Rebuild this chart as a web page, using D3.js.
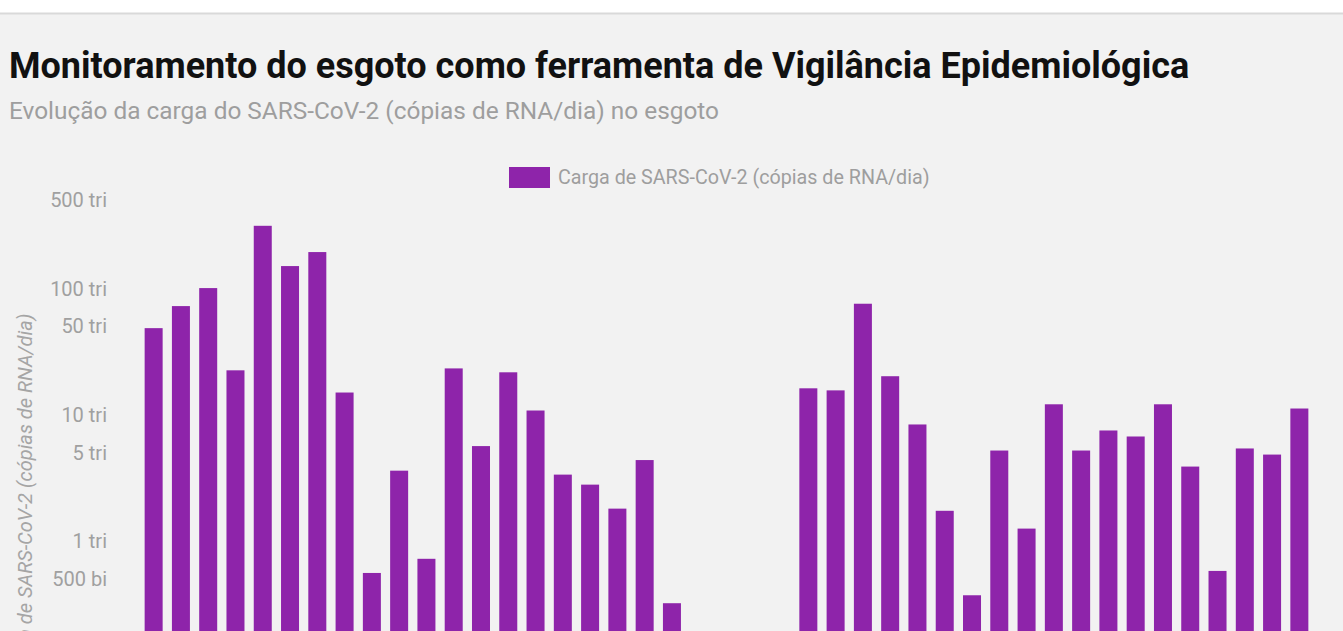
<!DOCTYPE html>
<html>
<head>
<meta charset="utf-8">
<script src="https://cdn.jsdelivr.net/npm/d3@7"></script>
<style>
    html, body { margin: 0; padding: 0; background: #f2f2f2; overflow: hidden; }
    svg { display: block; font-family: Roboto, "Noto Sans", sans-serif; }
</style>
</head>
<body>
<script>
// ================================
// DATA
// ================================

// weekly samples (their labels fall below the visible area)
var categories = d3.range(1, 44).map(function(i){ return "Semana " + i; });

// SARS-CoV-2 load in RNA copies/day (null = no sample)
var loadValues = [
    4.86e13, 7.27e13, 1.01e14, 2.25e13, 3.15e14, 1.51e14, 1.95e14, 1.50e13, 5.56e11, 3.60e12,
    7.20e11, 2.33e13, 5.64e12, 2.17e13, 1.08e13, 3.35e12, 2.79e12, 1.80e12, 4.37e12, 3.20e11,
    null, null, null, null,
    1.62e13, 1.56e13, 7.59e13, 2.02e13, 8.37e12, 1.73e12, 3.70e11, 5.20e12, 1.25e12, 1.21e13,
    5.20e12, 7.50e12, 6.72e12, 1.21e13, 3.88e12, 5.77e11, 5.40e12, 4.83e12, 1.12e13
];

var tickValues = [5e14, 1e14, 5e13, 1e13, 5e12, 1e12, 5e11];
var tickLabels = ["500 tri", "100 tri", "50 tri", "10 tri", "5 tri", "1 tri", "500 bi"];

var titleText = "Monitoramento do esgoto como ferramenta de Vigilância Epidemiológica";
var subtitleText = "Evolução da carga do SARS-CoV-2 (cópias de RNA/dia) no esgoto";
var seriesName = "Carga de SARS-CoV-2 (cópias de RNA/dia)";

var barColor = "#8e24aa";

window.onload = drawChart;

// ================================
// CHART
// ================================
function drawChart(){

    var width = 1343,
        height = 860;

    var margin = {top: 200.5, left: 140, right: 30, bottom: 67};

    var svg = d3.select("body")
        .append("svg")
        .attr("width", width)
        .attr("height", height);

    // white header strip
    svg.append("rect")
        .attr("width", width)
        .attr("height", 13)
        .attr("fill", "#ffffff");
    svg.append("line")
        .attr("x1", 0).attr("x2", width)
        .attr("y1", 13.5).attr("y2", 13.5)
        .attr("stroke", "#d9d9d9")
        .attr("stroke-width", 2);

    // titles
    svg.append("text")
        .attr("x", 9)
        .attr("y", 78)
        .style("font-size", "36px")
        .style("font-weight", "700")
        .attr("fill", "#111")
        .text(titleText);

    svg.append("text")
        .attr("x", 9)
        .attr("y", 119)
        .style("font-size", "24.4px")
        .attr("fill", "#9e9e9e")
        .text(subtitleText);

    var plotBottom = height - margin.bottom;

    var x = d3.scaleBand()
        .domain(categories)
        .range([margin.left, width - margin.right])
        .paddingInner(0.34)
        .paddingOuter(0.17);

    // log scale runs down to 10 bi, below the visible area
    var y = d3.scaleLog()
        .domain([1e10, 5e14])
        .range([plotBottom, margin.top]);

    // legend
    var legend = svg.append("g")
        .attr("transform", "translate(509,167)");
    legend.append("rect")
        .attr("width", 41)
        .attr("height", 21)
        .attr("fill", barColor);
    legend.append("text")
        .attr("x", 49)
        .attr("y", 10.5)
        .attr("dy", "0.35em")
        .style("font-size", "19.7px")
        .attr("fill", "#9e9e9e")
        .text(seriesName);

    // y axis
    var yAxis = d3.axisLeft(y)
        .tickValues(tickValues)
        .tickFormat(function(d, i){ return tickLabels[i]; })
        .tickSize(0)
        .tickPadding(0);

    var yG = svg.append("g")
        .attr("transform", "translate(107,0)")
        .call(yAxis);
    yG.select(".domain").remove();
    yG.selectAll("text")
        .style("font-size", "20px")
        .style("font-family", "Roboto, sans-serif")
        .attr("fill", "#a0a0a0");

    // y axis title
    svg.append("text")
        .attr("transform", "translate(32," + ((margin.top + plotBottom) / 2) + ") rotate(-90)")
        .attr("text-anchor", "middle")
        .style("font-size", "20px")
        .style("font-style", "italic")
        .attr("fill", "#a5a5a5")
        .text(seriesName);

    // bars
    var data = categories.map(function(c, i){
        return {cat: c, value: loadValues[i]};
    }).filter(function(d){ return d.value !== null; });

    svg.selectAll(".bars")
        .data(data)
        .enter()
        .append("rect")
        .attr("class", "bars")
        .attr("x", function(d){ return x(d.cat); })
        .attr("width", x.bandwidth())
        .attr("y", function(d){ return y(d.value); })
        .attr("height", function(d){ return plotBottom - y(d.value); })
        .attr("fill", barColor);
}
</script>
</body>
</html>
